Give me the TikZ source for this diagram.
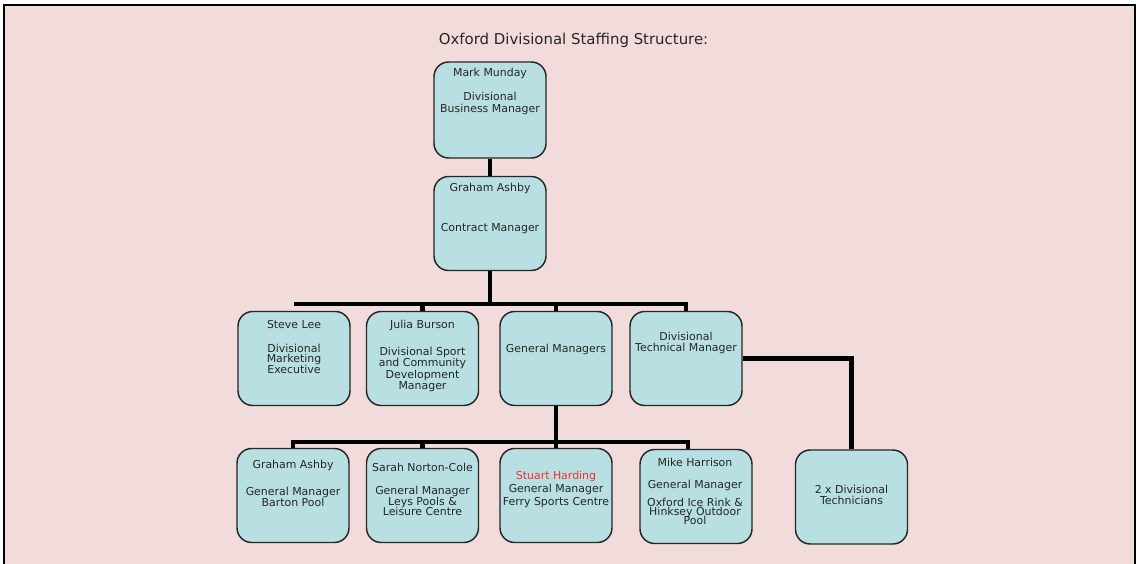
\documentclass[tikz,border=0pt]{standalone}
\usepackage{fontspec}
\setmainfont{DejaVu Sans}
\usetikzlibrary{positioning}
\definecolor{pagepink}{HTML}{F2DCDB}
\definecolor{boxteal}{HTML}{B8DFE2}
\definecolor{namered}{HTML}{FF2A2A}

\begin{document}
\begin{tikzpicture}[
                        x=0.75pt,
                        y=-0.75pt,
                        box/.style={draw=black!85,line width=1.1pt,fill=boxteal,rounded corners=11pt,
                                    minimum width=84pt,minimum height=70.5pt,inner sep=0pt},
                        txt/.style={align=center,inner sep=0pt,text=black!85,
                                    font=\fontsize{8.2}{8.6}\selectfont},
                        link/.style={line width=3.4pt,draw=black}
                    ]
                    \useasboundingbox (0,0) rectangle (1136,564);
                    \fill[pagepink] (4,5) rectangle (1135,564);
                    \draw[line width=1.5pt] (4,564) -- (4,5) -- (1135,5) -- (1135,564);

                    \node[txt,font=\fontsize{11.2}{13}\selectfont] (title) at (573.5,40) {Oxford Divisional Staffing Structure:};

                    % boxes
                    \node[box,minimum height=72pt] (mm) at (490,110)   {} ;
                    \node[box] (cm)   at (490,223.5) {} ;
                    \node[box] (sl)   at (294,358.5) {} ;
                    \node[box] (jb)   at (422.5,358.5) {} ;
                    \node[box] (gm)   at (556,358.5) {} ;
                    \node[box] (dtm)  at (686,358.5) {} ;
                    \node[box] (ga)   at (293,495.5) {} ;
                    \node[box] (snc)  at (422.5,495.5) {} ;
                    \node[box] (sh)   at (556,495.5) {} ;
                    \node[box] (mh)   at (696,496.5) {} ;
                    \node[box] (tech) at (851.5,497) {} ;

                    % texts
                    \node[txt] (mmtxt)   at (490,91.5)  {Mark Munday\\[9.4pt]Divisional\\Business Manager};
                    \node[txt] (cmtxt)   at (490,208)   {Graham Ashby\\[21.4pt]Contract Manager};
                    \node[txt] (sltxt)   at (294,347)   {Steve Lee\\[9.4pt]Divisional\\[-0.4pt]Marketing\\[-0.4pt]Executive};
                    \node[txt] (jbtxt)   at (422.5,356) {Julia Burson\\[11.6pt]Divisional Sport\\and Community\\Development\\Manager};
                    \node[txt] (gmtxt)   at (556,349)   {General Managers};
                    \node[txt] (dtmtxt)  at (686,343)   {Divisional\\Technical Manager};
                    \node[txt] (gatxt)   at (293,483.5) {Graham Ashby\\[11.6pt]General Manager\\Barton Pool};
                    \node[txt] (snctxt)  at (422.5,489.5) {Sarah Norton-Cole\\[8.6pt]General Manager\\[-1pt]Leys Pools \&\\[-1pt]Leisure Centre};
                    \node[txt] (shtxt)   at (556,489.5) {\textcolor{namered}{Stuart Harding}\\[0.8pt]General Manager\\[0.8pt]Ferry Sports Centre};
                    \node[txt] (mhtxt)   at (695,491)   {Mike Harrison\\[7.9pt]General Manager\\[4.9pt]Oxford Ice Rink \&\\[-1.9pt]Hinksey Outdoor\\[-1.9pt]Pool};
                    \node[txt] (techtxt) at (851.5,495) {2 x Divisional\\Technicians};

                    % connectors
                    \coordinate (bus1) at (490,304);
                    \coordinate (bus2) at (556,442);
                    \draw[link] (mm) -- (cm);
                    \draw[link] (cm.south) -- (bus1);
                    \draw[link] (sl.north |- bus1) -| (dtm.north);
                    \foreach \n in {jb,gm}
                        \draw[link] (\n.north |- bus1) -- (\n.north);
                    \draw[link] (gm.south) -- (bus2);
                    \draw[link] (ga.north) |- (bus2) -| ([xshift=-6pt]mh.north);
                    \foreach \n in {snc,sh}
                        \draw[link] (\n.north |- bus2) -- (\n.north);
                    \draw[link] (dtm.east) -| (tech.north);

                \end{tikzpicture}
\end{document}
